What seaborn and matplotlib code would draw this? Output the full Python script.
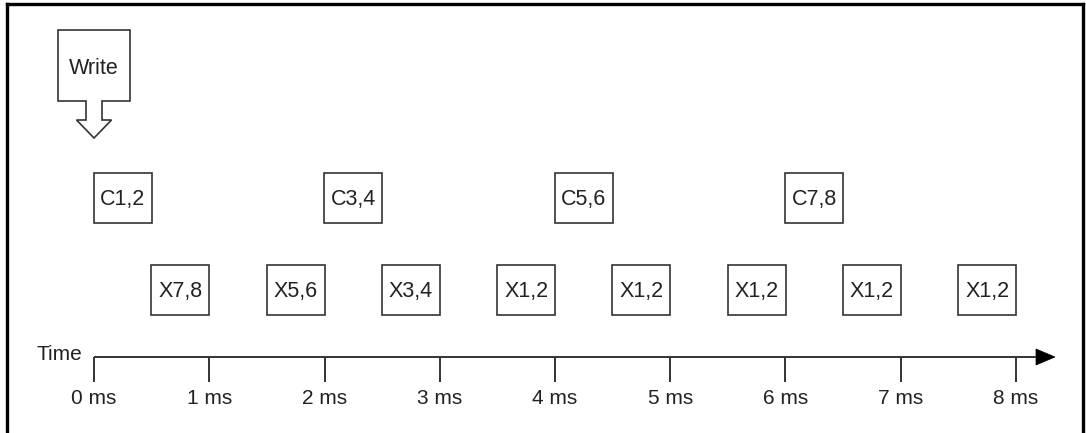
import matplotlib
matplotlib.use("Agg")
import matplotlib.pyplot as plt
from matplotlib.patches import Rectangle, Polygon
import seaborn as sns

# Timing data (ms)
write_time = 0.0
conv_labels = ["C1,2", "C3,4", "C5,6", "C7,8"]
conv_times = [0.25, 2.25, 4.25, 6.25]
xfer_labels = ["X7,8", "X5,6", "X3,4", "X1,2", "X1,2", "X1,2", "X1,2", "X1,2"]
xfer_times = [0.75, 1.75, 2.75, 3.75, 4.75, 5.75, 6.75, 7.75]
tick_values = [0, 1, 2, 3, 4, 5, 6, 7, 8]
tick_labels = [f"{t} ms" for t in tick_values]

sns.set_style("white")
plt.rcParams['font.family'] = ['Liberation Sans', 'DejaVu Sans']

PX = 115.25          # pixels per ms
ROW_C, ROW_X, ROW_AXIS = 198, 290, 357
BOX_W, BOX_H = 58 / PX, 50
EDGE = '#333333'
TXT = '#222222'

fig = plt.figure(figsize=(10.86, 4.33), dpi=100)
ax = fig.add_axes([7 / 1086, 0, 1076 / 1086, 429 / 433])
ax.set_xlim(-87 / PX, (1076 - 87) / PX)
ax.set_ylim(433, 4)
ax.set_xticks([])
ax.set_yticks([])
for s in ['left', 'top', 'right']:
    ax.spines[s].set_linewidth(2.4)
    ax.spines[s].set_color('black')
ax.spines['bottom'].set_visible(False)


def draw_box(t, y, label):
    ax.add_patch(Rectangle((t - BOX_W / 2, y - BOX_H / 2), BOX_W, BOX_H,
                           facecolor='white', edgecolor=EDGE, linewidth=1.2))
    ax.text(t, y + 1, label, ha='center', va='center', fontsize=15.5, color=TXT)


for t, lab in zip(conv_times, conv_labels):
    draw_box(t, ROW_C, lab)
for t, lab in zip(xfer_times, xfer_labels):
    draw_box(t, ROW_X, lab)

# Write marker (box with hollow arrow)
bw, sw, hw = 36 / PX, 8 / PX, 17.5 / PX
shape = [(write_time - bw, 30), (write_time + bw, 30), (write_time + bw, 101),
         (write_time + sw, 101), (write_time + sw, 120), (write_time + hw, 120),
         (write_time, 138), (write_time - hw, 120), (write_time - sw, 120),
         (write_time - sw, 101), (write_time - bw, 101)]
ax.add_patch(Polygon(shape, closed=True, facecolor='white', edgecolor=EDGE, linewidth=1.2))
ax.text(write_time, 68, "Write", ha='center', va='center', fontsize=15.5, color=TXT)

# Time axis
ax.plot([tick_values[0], 1036 / PX - 94 / PX], [ROW_AXIS, ROW_AXIS], color=EDGE, lw=1.4,
        solid_capstyle='butt')
ax.add_patch(Polygon([(942 / PX, ROW_AXIS - 8), (961 / PX, ROW_AXIS), (942 / PX, ROW_AXIS + 8)],
                     closed=True, facecolor='black', edgecolor='black', lw=0.5))
ax.vlines(tick_values, ROW_AXIS, ROW_AXIS + 25, color=EDGE, lw=1.4)
for t, lab in zip(tick_values, tick_labels):
    ax.text(t, 398, lab, ha='center', va='center', fontsize=15, color=TXT)
ax.text(tick_values[0] - 12 / PX, 354, "Time", ha='right', va='center', fontsize=15, color=TXT)

fig.savefig("out.png", dpi=100)
